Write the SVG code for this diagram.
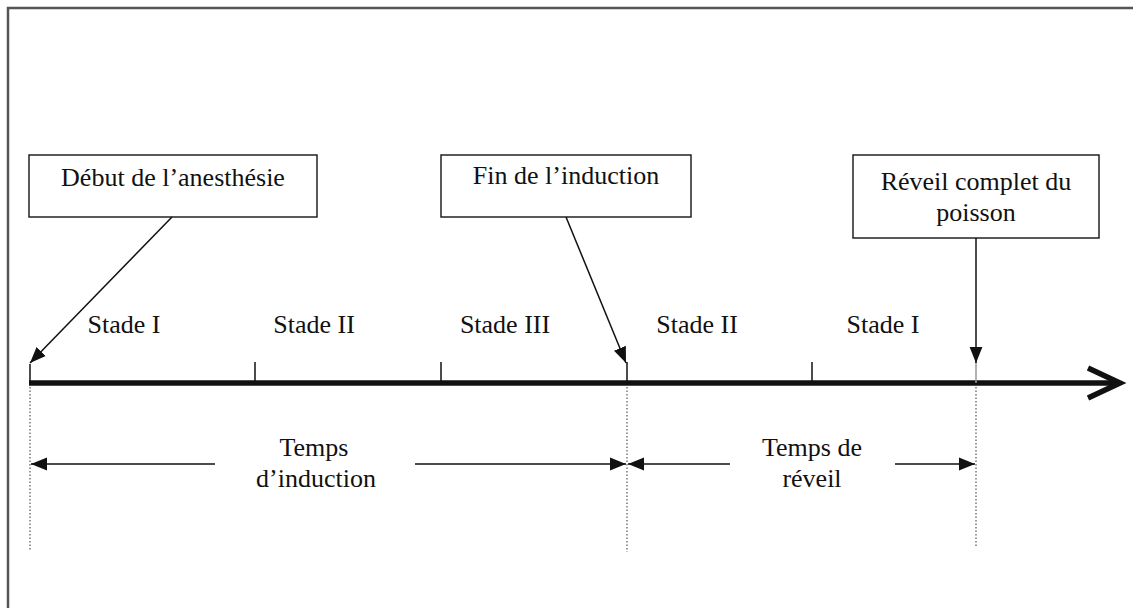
<svg xmlns="http://www.w3.org/2000/svg" width="1133" height="608" viewBox="0 0 1133 608">
<defs>
<style>
.t{font-family:"Liberation Serif","Times New Roman",serif;font-size:26px;fill:#111;text-anchor:middle}
.box{fill:#fff;stroke:#222;stroke-width:1.5}
.ln{stroke:#111;stroke-width:1.5;fill:none}
.dot{stroke:#555;stroke-width:1.2;stroke-dasharray:1.5 2;fill:none}
</style>
<marker id="ahb" viewBox="0 0 10 10" refX="10" refY="5" markerWidth="16" markerHeight="16" markerUnits="userSpaceOnUse" orient="auto">
<path d="M0,1 L10,5 L0,9 z" fill="#111"/>
</marker>
</defs>
<rect width="1133" height="608" fill="#fff"/>
<path d="M8,608 V8 H1133" fill="none" stroke="#555" stroke-width="2.5"/>

<g id="axis">
<line x1="29" y1="383" x2="1116" y2="383" stroke="#111" stroke-width="5.5"/>
<polyline points="1088,368 1120,383 1088,398" fill="none" stroke="#111" stroke-width="5.5" stroke-linejoin="miter"/>
<line class="ln" x1="30" y1="364" x2="30" y2="383"/>
<line class="ln" x1="255" y1="362" x2="255" y2="383"/>
<line class="ln" x1="441" y1="362" x2="441" y2="383"/>
<line class="ln" x1="627" y1="362" x2="627" y2="383"/>
<line class="ln" x1="812" y1="362" x2="812" y2="383"/>
<line x1="976" y1="362" x2="976" y2="383" stroke="#999" stroke-width="1.5"/>
</g>

<g id="stages">
<text class="t" x="124" y="333">Stade I</text>
<text class="t" x="314" y="333">Stade II</text>
<text class="t" x="505" y="333">Stade III</text>
<text class="t" x="697" y="333">Stade II</text>
<text class="t" x="883" y="333">Stade I</text>
</g>

<g id="n-debut">
<rect class="box" x="29" y="155" width="288" height="62"/>
<text class="t" x="173" y="186">Début de l’anesthésie</text>
</g>
<g id="n-fin">
<rect class="box" x="441" y="155" width="250" height="62"/>
<text class="t" x="566" y="184">Fin de l’induction</text>
</g>
<g id="n-reveil">
<rect class="box" x="853" y="155" width="246" height="83"/>
<text class="t" x="976" y="190">Réveil complet du</text>
<text class="t" x="976" y="221">poisson</text>
</g>

<g id="connectors">
<line class="ln" x1="172" y1="217" x2="30" y2="363" marker-end="url(#ahb)"/>
<line class="ln" x1="566" y1="217" x2="626" y2="363" marker-end="url(#ahb)"/>
<line class="ln" x1="976" y1="238" x2="976" y2="363" marker-end="url(#ahb)"/>
<line class="dot" x1="30" y1="387" x2="30" y2="550"/>
<line class="dot" x1="627" y1="387" x2="627" y2="552"/>
<line class="dot" x1="976" y1="387" x2="976" y2="548"/>
<line class="ln" x1="215" y1="464" x2="31" y2="464" marker-end="url(#ahb)"/>
<line class="ln" x1="415" y1="464" x2="626" y2="464" marker-end="url(#ahb)"/>
<line class="ln" x1="730" y1="464" x2="628" y2="464" marker-end="url(#ahb)"/>
<line class="ln" x1="895" y1="464" x2="975" y2="464" marker-end="url(#ahb)"/>
</g>

<g id="labels">
<text class="t" x="314" y="456">Temps</text>
<text class="t" x="316" y="487">d’induction</text>
<text class="t" x="812" y="456">Temps de</text>
<text class="t" x="812" y="487">réveil</text>
</g>
</svg>
